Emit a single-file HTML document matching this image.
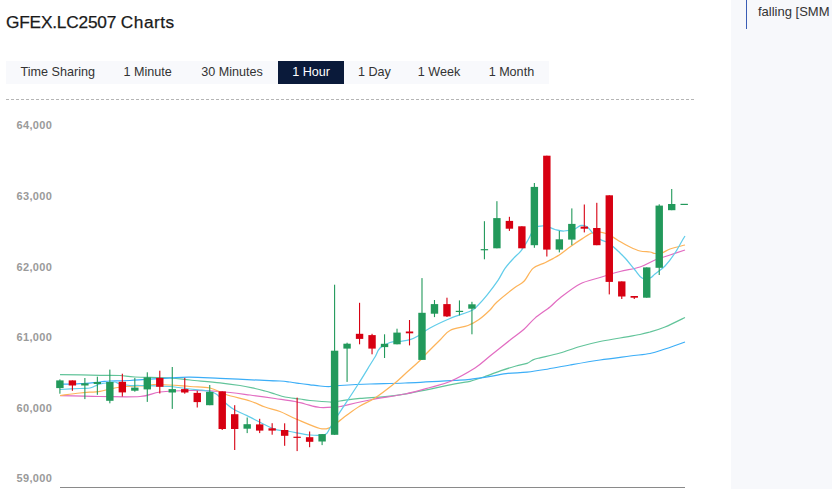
<!DOCTYPE html>
<html><head><meta charset="utf-8"><style>
html,body{margin:0;padding:0;width:832px;height:489px;overflow:hidden;background:#fff;font-family:"Liberation Sans",sans-serif;}
.title{position:absolute;left:6px;top:11px;font-size:17.3px;line-height:22px;-webkit-text-stroke:0.25px #1a1a1a;color:#1a1a1a;white-space:nowrap;letter-spacing:0px;}
.tabbar{position:absolute;left:6px;top:61px;width:543px;height:23px;background:#f8f9fc;}
.act-bg{position:absolute;left:278px;top:61px;width:66px;height:23px;background:#0a1a3a;}
.tl{position:absolute;top:64px;width:100px;text-align:center;font-size:12.6px;color:#333;white-space:nowrap;line-height:16px;}
.tl.act{color:#fff;}
.dash{position:absolute;left:6px;top:99px;width:689px;height:1px;background-image:linear-gradient(to right,#b5b5b5 0,#b5b5b5 3px,transparent 3px,transparent 5px);background-size:5px 1px;}
.yl{position:absolute;left:16.5px;font-size:11px;letter-spacing:0.35px;font-weight:bold;color:#9a9a9a;line-height:14px;white-space:nowrap;}
.axis{position:absolute;left:59.5px;top:487px;width:625px;height:1px;background:#8a8a8a;}
.panel{position:absolute;left:731px;top:0;width:101px;height:489px;background:#f7f8fb;}
.bar{position:absolute;left:746px;top:0;width:1px;height:29px;background:#3a5db5;}
.ptext{position:absolute;left:758px;top:4px;font-size:13px;color:#333;white-space:nowrap;line-height:16px;}
svg{position:absolute;left:0;top:0;}
</style></head><body>
<div class="title"><span style="letter-spacing:-0.2px">GFEX.LC2507</span></div><div class="title" style="left:120.8px;letter-spacing:0.5px">Charts</div>
<div class="tabbar"></div>
<div class="act-bg"></div>
<div class="tl" style="left:7.8px">Time Sharing</div><div class="tl" style="left:97.7px">1 Minute</div><div class="tl" style="left:182.1px">30 Minutes</div><div class="tl act" style="left:261.1px">1 Hour</div><div class="tl" style="left:324.4px">1 Day</div><div class="tl" style="left:389.0px">1 Week</div><div class="tl" style="left:461.4px">1 Month</div>
<div class="dash"></div>
<div class="yl" style="top:118px">64,000</div><div class="yl" style="top:189px">63,000</div><div class="yl" style="top:260px">62,000</div><div class="yl" style="top:330px">61,000</div><div class="yl" style="top:401px">60,000</div><div class="yl" style="top:471px">59,000</div>
<div class="axis"></div>
<svg width="832" height="489" viewBox="0 0 832 489">
<path d="M60.0,374.6 C66.7,374.7 90.0,375.2 100.0,375.3 C110.0,375.4 114.2,375.2 120.0,375.5 C125.8,375.8 126.7,376.6 135.0,377.0 C143.3,377.4 160.8,377.5 170.0,378.0 C179.2,378.5 181.7,379.2 190.0,380.0 C198.3,380.8 211.7,381.9 220.0,382.8 C228.3,383.7 234.2,384.6 240.0,385.5 C245.8,386.4 250.8,387.6 255.0,388.5 C259.2,389.4 261.7,390.1 265.0,391.0 C268.3,391.9 271.7,393.0 275.0,394.0 C278.3,395.0 280.8,396.2 285.0,397.0 C289.2,397.8 295.8,398.4 300.0,399.0 C304.2,399.6 305.0,400.0 310.0,400.5 C315.0,401.0 325.0,401.9 330.0,402.0 C335.0,402.1 335.0,401.6 340.0,401.0 C345.0,400.4 350.0,399.4 360.0,398.4 C370.0,397.4 384.2,397.2 400.0,394.8 C415.8,392.4 443.3,386.1 455.0,383.9 C466.7,381.6 464.8,382.6 470.0,381.3 C475.2,380.0 480.8,378.0 486.0,376.2 C491.2,374.4 496.0,372.3 501.0,370.6 C506.0,368.9 511.7,367.2 516.0,366.0 C520.3,364.8 524.2,364.4 527.0,363.4 C529.8,362.4 530.8,360.7 533.0,359.8 C535.2,358.9 535.5,358.9 540.0,357.8 C544.5,356.7 553.3,354.9 560.0,353.0 C566.7,351.1 573.3,348.4 580.0,346.5 C586.7,344.6 593.3,342.9 600.0,341.5 C606.7,340.1 613.3,339.2 620.0,338.0 C626.7,336.8 635.0,335.5 640.0,334.5 C645.0,333.5 645.8,333.2 650.0,332.0 C654.2,330.8 659.2,329.4 665.0,327.0 C670.8,324.6 681.7,319.1 685.0,317.5" fill="none" stroke="#62c49a" stroke-width="1.25"/>
<path d="M60.0,384.3 C63.3,384.2 73.3,384.1 80.0,383.7 C86.7,383.3 95.0,382.4 100.0,382.0 C105.0,381.6 105.0,381.2 110.0,381.0 C115.0,380.8 120.0,381.0 130.0,380.5 C140.0,380.0 160.0,378.5 170.0,377.9 C180.0,377.3 181.7,377.0 190.0,377.1 C198.3,377.2 208.3,377.8 220.0,378.3 C231.7,378.8 250.0,379.8 260.0,380.2 C270.0,380.6 275.0,380.7 280.0,381.0 C285.0,381.3 286.7,381.6 290.0,382.0 C293.3,382.4 296.7,383.0 300.0,383.5 C303.3,384.0 306.7,384.4 310.0,384.8 C313.3,385.2 316.7,385.7 320.0,386.0 C323.3,386.3 326.7,386.6 330.0,386.5 C333.3,386.4 333.3,385.9 340.0,385.5 C346.7,385.1 359.2,384.4 370.0,384.0 C380.8,383.6 390.8,383.6 405.0,383.0 C419.2,382.4 444.2,380.9 455.0,380.3 C465.8,379.7 464.8,379.8 470.0,379.3 C475.2,378.8 480.0,378.1 486.0,377.2 C492.0,376.2 499.2,374.5 506.0,373.6 C512.8,372.8 520.5,372.8 527.0,372.1 C533.5,371.4 537.8,370.7 545.0,369.5 C552.2,368.3 560.8,366.6 570.0,365.0 C579.2,363.4 590.0,361.5 600.0,360.0 C610.0,358.5 621.7,357.1 630.0,356.0 C638.3,354.9 644.2,354.7 650.0,353.5 C655.8,352.3 659.2,350.9 665.0,349.0 C670.8,347.1 681.7,343.2 685.0,342.0" fill="none" stroke="#3caef7" stroke-width="1.25"/>
<path d="M60.0,395.6 C66.7,395.8 86.7,396.4 100.0,396.5 C113.3,396.6 130.0,397.2 140.0,396.5 C150.0,395.8 151.7,393.0 160.0,392.0 C168.3,391.0 180.0,390.6 190.0,390.5 C200.0,390.4 210.0,390.8 220.0,391.5 C230.0,392.2 240.8,393.8 250.0,395.0 C259.2,396.2 267.5,397.4 275.0,398.5 C282.5,399.6 290.0,400.6 295.0,401.5 C300.0,402.4 300.8,403.0 305.0,404.0 C309.2,405.0 315.0,407.0 320.0,407.5 C325.0,408.0 331.7,407.2 335.0,407.0 C338.3,406.8 334.2,407.7 340.0,406.5 C345.8,405.3 359.2,402.1 370.0,400.0 C380.8,397.9 395.0,396.1 405.0,394.0 C415.0,391.9 422.5,389.6 430.0,387.5 C437.5,385.4 442.5,384.8 450.0,381.5 C457.5,378.2 468.3,372.2 475.0,368.0 C481.7,363.8 484.0,360.8 490.0,356.0 C496.0,351.2 505.3,343.8 511.0,339.3 C516.7,334.8 520.0,332.7 524.0,329.2 C528.0,325.7 530.7,321.8 535.0,318.1 C539.3,314.4 545.8,310.4 550.0,307.0 C554.2,303.6 555.0,301.8 560.0,298.0 C565.0,294.2 573.3,287.4 580.0,284.0 C586.7,280.6 593.3,279.6 600.0,277.5 C606.7,275.4 613.3,273.2 620.0,271.5 C626.7,269.8 634.2,268.9 640.0,267.0 C645.8,265.1 650.0,262.0 655.0,260.0 C660.0,258.0 665.0,256.7 670.0,255.0 C675.0,253.3 682.5,250.8 685.0,250.0" fill="none" stroke="#e26dc2" stroke-width="1.25"/>
<path d="M60.0,395.5 C63.3,395.1 73.3,393.7 80.0,393.0 C86.7,392.3 95.0,392.0 100.0,391.3 C105.0,390.6 105.8,389.8 110.0,389.0 C114.2,388.2 120.0,387.0 125.0,386.5 C130.0,386.0 134.2,386.3 140.0,386.0 C145.8,385.7 151.7,384.4 160.0,384.5 C168.3,384.6 181.7,385.9 190.0,386.5 C198.3,387.1 204.0,386.7 210.0,388.0 C216.0,389.3 219.3,392.3 226.0,394.5 C232.7,396.7 243.5,398.9 250.0,401.0 C256.5,403.1 260.0,405.2 265.0,407.0 C270.0,408.8 274.8,409.5 280.0,411.5 C285.2,413.5 289.3,416.2 296.0,419.0 C302.7,421.8 314.3,427.1 320.0,428.5 C325.7,429.9 327.0,428.6 330.0,427.5 C333.0,426.4 335.2,424.1 338.0,422.0 C340.8,419.9 343.3,417.7 347.0,415.0 C350.7,412.3 355.3,408.8 360.0,406.0 C364.7,403.2 369.2,401.8 375.0,398.0 C380.8,394.2 390.0,387.0 395.0,383.0 C400.0,379.0 400.8,377.8 405.0,374.0 C409.2,370.2 416.7,363.7 420.0,360.5 C423.3,357.3 421.7,358.4 425.0,355.0 C428.3,351.6 435.8,344.1 440.0,340.0 C444.2,335.9 445.3,332.9 450.0,330.5 C454.7,328.1 463.2,327.3 468.0,325.5 C472.8,323.7 475.3,322.1 479.0,319.5 C482.7,316.9 487.0,312.9 490.0,310.0 C493.0,307.1 492.9,305.7 497.0,302.0 C501.1,298.3 510.0,291.2 514.5,287.8 C519.0,284.4 520.9,284.5 524.0,281.3 C527.1,278.1 529.5,271.5 533.0,268.4 C536.5,265.3 541.7,264.3 545.0,262.7 C548.3,261.1 550.5,260.0 553.0,258.6 C555.5,257.2 557.0,256.5 560.0,254.4 C563.0,252.3 567.3,248.8 571.0,246.2 C574.7,243.6 578.5,241.1 582.0,238.9 C585.5,236.7 589.0,233.9 592.0,232.8 C595.0,231.7 597.7,232.0 600.0,232.1 C602.3,232.2 603.8,232.7 606.0,233.5 C608.2,234.3 610.7,235.8 613.0,237.1 C615.3,238.4 617.2,239.8 620.0,241.5 C622.8,243.2 626.7,245.4 630.0,247.0 C633.3,248.6 636.7,250.2 640.0,251.0 C643.3,251.8 647.5,251.6 650.0,252.0 C652.5,252.4 653.0,253.3 655.0,253.5 C657.0,253.7 659.5,253.8 662.0,253.0 C664.5,252.2 666.2,250.3 670.0,249.0 C673.8,247.7 682.5,245.7 685.0,245.0" fill="none" stroke="#fdb45a" stroke-width="1.25"/>
<path d="M60.0,389.5 C63.3,389.3 75.0,388.8 80.0,388.5 C85.0,388.2 87.5,388.4 90.0,388.0 C92.5,387.6 93.3,386.7 95.0,386.0 C96.7,385.3 97.5,384.6 100.0,384.0 C102.5,383.4 107.5,382.8 110.0,382.5 C112.5,382.2 113.3,381.8 115.0,382.0 C116.7,382.2 117.5,383.4 120.0,384.0 C122.5,384.6 126.7,385.2 130.0,385.5 C133.3,385.8 133.3,385.3 140.0,385.5 C146.7,385.7 161.7,385.9 170.0,386.5 C178.3,387.1 185.0,388.4 190.0,389.0 C195.0,389.6 196.3,389.5 200.0,390.0 C203.7,390.5 209.0,391.1 212.0,392.0 C215.0,392.9 215.7,393.5 218.0,395.4 C220.3,397.3 223.3,401.1 226.0,403.5 C228.7,405.9 230.5,407.5 234.0,409.5 C237.5,411.5 241.8,413.1 247.0,415.6 C252.2,418.2 260.0,422.4 265.0,424.8 C270.0,427.2 272.8,428.7 277.0,429.8 C281.2,430.9 284.5,430.6 290.0,431.5 C295.5,432.4 304.2,434.5 310.0,435.0 C315.8,435.5 321.7,435.7 325.0,434.5 C328.3,433.3 327.8,431.2 330.0,428.0 C332.2,424.8 333.3,422.2 338.0,415.0 C342.7,407.8 352.7,392.8 358.0,384.5 C363.3,376.2 367.2,369.6 370.0,365.0 C372.8,360.4 373.3,359.8 375.0,357.0 C376.7,354.2 377.5,350.4 380.0,348.0 C382.5,345.6 386.7,343.6 390.0,342.5 C393.3,341.4 396.7,342.0 400.0,341.5 C403.3,341.0 407.0,340.6 410.0,339.7 C413.0,338.8 414.7,337.9 418.0,336.0 C421.3,334.1 424.7,330.9 430.0,328.0 C435.3,325.1 443.2,321.4 450.0,318.5 C456.8,315.6 466.3,313.0 471.0,310.8 C475.7,308.6 475.3,307.8 478.0,305.2 C480.7,302.6 483.7,299.2 487.0,295.1 C490.3,291.0 495.0,284.8 498.0,280.4 C501.0,275.9 502.4,272.1 505.0,268.4 C507.6,264.7 510.8,261.3 513.5,258.4 C516.2,255.5 518.6,253.9 521.0,250.8 C523.4,247.7 525.7,243.8 528.0,240.0 C530.3,236.2 532.2,230.3 535.0,228.0 C537.8,225.7 541.7,225.8 545.0,226.0 C548.3,226.2 551.8,228.7 555.0,229.5 C558.2,230.3 560.7,231.1 564.0,231.0 C567.3,230.9 572.2,229.7 575.0,228.8 C577.8,227.9 579.0,225.8 581.0,225.4 C583.0,225.1 585.2,225.6 587.0,226.7 C588.8,227.8 589.8,230.0 592.0,232.1 C594.2,234.2 597.7,237.7 600.0,239.3 C602.3,240.9 603.8,240.6 606.0,241.8 C608.2,243.0 610.7,244.6 613.0,246.5 C615.3,248.4 618.0,251.1 620.0,253.0 C622.0,254.9 622.5,255.2 625.0,258.0 C627.5,260.8 632.2,266.7 635.0,270.0 C637.8,273.3 639.5,276.7 642.0,278.0 C644.5,279.3 647.8,278.7 650.0,278.0 C652.2,277.3 652.5,276.0 655.0,274.0 C657.5,272.0 661.7,269.5 665.0,266.0 C668.3,262.5 672.2,257.2 675.0,253.0 C677.8,248.8 680.3,243.8 682.0,241.0 C683.7,238.2 684.5,236.8 685.0,236.0" fill="none" stroke="#62cdea" stroke-width="1.25"/>
<rect x="59.35" y="379.40" width="1.1" height="14.30" fill="#22995b"/>
<rect x="56.20" y="380.40" width="7.40" height="7.70" fill="#22995b"/>
<rect x="71.84" y="380.40" width="1.1" height="10.40" fill="#d70012"/>
<rect x="68.69" y="380.40" width="7.40" height="5.10" fill="#d70012"/>
<rect x="84.32" y="378.00" width="1.1" height="21.10" fill="#22995b"/>
<rect x="81.17" y="383.30" width="7.40" height="2.20" fill="#22995b"/>
<rect x="96.81" y="376.70" width="1.1" height="18.10" fill="#22995b"/>
<rect x="93.66" y="382.00" width="7.40" height="2.00" fill="#22995b"/>
<rect x="109.29" y="369.60" width="1.1" height="33.70" fill="#22995b"/>
<rect x="106.14" y="382.00" width="7.40" height="18.80" fill="#22995b"/>
<rect x="121.78" y="373.70" width="1.1" height="22.80" fill="#d70012"/>
<rect x="118.63" y="381.80" width="7.40" height="10.60" fill="#d70012"/>
<rect x="134.27" y="377.90" width="1.1" height="13.80" fill="#22995b"/>
<rect x="131.12" y="387.60" width="7.40" height="3.10" fill="#22995b"/>
<rect x="146.75" y="372.30" width="1.1" height="29.60" fill="#22995b"/>
<rect x="143.60" y="377.40" width="7.40" height="12.00" fill="#22995b"/>
<rect x="159.24" y="370.70" width="1.1" height="22.80" fill="#d70012"/>
<rect x="156.09" y="377.90" width="7.40" height="8.90" fill="#d70012"/>
<rect x="171.72" y="367.00" width="1.1" height="41.90" fill="#22995b"/>
<rect x="168.57" y="389.10" width="7.40" height="3.40" fill="#22995b"/>
<rect x="184.21" y="377.90" width="1.1" height="15.80" fill="#d70012"/>
<rect x="181.06" y="389.10" width="7.40" height="3.40" fill="#d70012"/>
<rect x="196.70" y="390.70" width="1.1" height="16.80" fill="#d70012"/>
<rect x="193.55" y="392.90" width="7.40" height="9.20" fill="#d70012"/>
<rect x="209.18" y="385.00" width="1.1" height="20.20" fill="#22995b"/>
<rect x="206.03" y="391.90" width="7.40" height="13.30" fill="#22995b"/>
<rect x="221.67" y="391.40" width="1.1" height="38.60" fill="#d70012"/>
<rect x="218.52" y="391.40" width="7.40" height="37.60" fill="#d70012"/>
<rect x="234.15" y="405.20" width="1.1" height="44.80" fill="#d70012"/>
<rect x="231.00" y="414.20" width="7.40" height="14.80" fill="#d70012"/>
<rect x="246.64" y="417.50" width="1.1" height="15.60" fill="#22995b"/>
<rect x="243.49" y="424.20" width="7.40" height="4.50" fill="#22995b"/>
<rect x="259.13" y="418.80" width="1.1" height="14.30" fill="#d70012"/>
<rect x="255.98" y="424.40" width="7.40" height="6.20" fill="#d70012"/>
<rect x="271.61" y="423.20" width="1.1" height="11.50" fill="#d70012"/>
<rect x="268.46" y="428.30" width="7.40" height="2.30" fill="#d70012"/>
<rect x="284.10" y="423.30" width="1.1" height="22.50" fill="#d70012"/>
<rect x="280.95" y="430.00" width="7.40" height="5.80" fill="#d70012"/>
<rect x="296.58" y="397.60" width="1.1" height="53.50" fill="#d70012"/>
<rect x="293.43" y="436.70" width="7.40" height="1.20" fill="#d70012"/>
<rect x="309.07" y="431.50" width="1.1" height="15.70" fill="#d70012"/>
<rect x="305.92" y="437.20" width="7.40" height="4.60" fill="#d70012"/>
<rect x="321.56" y="434.00" width="1.1" height="11.10" fill="#22995b"/>
<rect x="318.41" y="434.10" width="7.40" height="7.40" fill="#22995b"/>
<rect x="334.04" y="284.70" width="1.1" height="150.10" fill="#22995b"/>
<rect x="330.89" y="350.70" width="7.40" height="84.10" fill="#22995b"/>
<rect x="346.53" y="342.70" width="1.1" height="39.20" fill="#22995b"/>
<rect x="343.38" y="343.70" width="7.40" height="4.90" fill="#22995b"/>
<rect x="359.01" y="302.80" width="1.1" height="41.50" fill="#d70012"/>
<rect x="355.86" y="333.80" width="7.40" height="5.10" fill="#d70012"/>
<rect x="371.50" y="333.80" width="1.1" height="20.50" fill="#d70012"/>
<rect x="368.35" y="335.10" width="7.40" height="13.50" fill="#d70012"/>
<rect x="383.99" y="334.30" width="1.1" height="23.70" fill="#22995b"/>
<rect x="380.84" y="343.80" width="7.40" height="3.30" fill="#22995b"/>
<rect x="396.47" y="328.70" width="1.1" height="15.60" fill="#22995b"/>
<rect x="393.32" y="332.60" width="7.40" height="11.70" fill="#22995b"/>
<rect x="408.96" y="320.00" width="1.1" height="25.40" fill="#d70012"/>
<rect x="405.81" y="331.50" width="7.40" height="1.80" fill="#d70012"/>
<rect x="421.44" y="278.10" width="1.1" height="81.80" fill="#22995b"/>
<rect x="418.29" y="312.80" width="7.40" height="47.10" fill="#22995b"/>
<rect x="433.93" y="300.00" width="1.1" height="17.10" fill="#22995b"/>
<rect x="430.78" y="304.10" width="7.40" height="9.60" fill="#22995b"/>
<rect x="446.42" y="297.70" width="1.1" height="19.30" fill="#d70012"/>
<rect x="443.27" y="304.10" width="7.40" height="12.30" fill="#d70012"/>
<rect x="458.90" y="300.40" width="1.1" height="15.00" fill="#22995b"/>
<rect x="455.75" y="310.80" width="7.40" height="1.20" fill="#22995b"/>
<rect x="471.39" y="301.80" width="1.1" height="32.50" fill="#22995b"/>
<rect x="468.24" y="304.30" width="7.40" height="4.40" fill="#22995b"/>
<rect x="483.87" y="221.20" width="1.1" height="38.10" fill="#22995b"/>
<rect x="480.72" y="249.10" width="7.40" height="1.20" fill="#22995b"/>
<rect x="496.36" y="201.20" width="1.1" height="47.10" fill="#22995b"/>
<rect x="493.21" y="218.10" width="7.40" height="30.20" fill="#22995b"/>
<rect x="508.85" y="216.80" width="1.1" height="14.10" fill="#d70012"/>
<rect x="505.70" y="220.90" width="7.40" height="7.80" fill="#d70012"/>
<rect x="521.33" y="226.30" width="1.1" height="22.00" fill="#d70012"/>
<rect x="518.18" y="226.30" width="7.40" height="22.00" fill="#d70012"/>
<rect x="533.82" y="183.00" width="1.1" height="64.80" fill="#22995b"/>
<rect x="530.67" y="186.90" width="7.40" height="58.30" fill="#22995b"/>
<rect x="546.30" y="155.70" width="1.1" height="100.80" fill="#d70012"/>
<rect x="543.15" y="155.70" width="7.40" height="93.90" fill="#d70012"/>
<rect x="558.79" y="230.90" width="1.1" height="21.50" fill="#22995b"/>
<rect x="555.64" y="239.30" width="7.40" height="10.30" fill="#22995b"/>
<rect x="571.28" y="208.40" width="1.1" height="36.80" fill="#22995b"/>
<rect x="568.13" y="223.90" width="7.40" height="15.70" fill="#22995b"/>
<rect x="583.76" y="204.50" width="1.1" height="27.90" fill="#d70012"/>
<rect x="580.61" y="226.60" width="7.40" height="2.10" fill="#d70012"/>
<rect x="596.25" y="202.80" width="1.1" height="42.40" fill="#d70012"/>
<rect x="593.10" y="228.00" width="7.40" height="17.20" fill="#d70012"/>
<rect x="608.73" y="195.30" width="1.1" height="99.10" fill="#d70012"/>
<rect x="605.58" y="195.30" width="7.40" height="86.60" fill="#d70012"/>
<rect x="621.22" y="281.40" width="1.1" height="17.60" fill="#d70012"/>
<rect x="618.07" y="281.40" width="7.40" height="15.10" fill="#d70012"/>
<rect x="633.71" y="296.00" width="1.1" height="3.00" fill="#d70012"/>
<rect x="630.56" y="296.00" width="7.40" height="1.70" fill="#d70012"/>
<rect x="646.19" y="267.40" width="1.1" height="30.30" fill="#22995b"/>
<rect x="643.04" y="267.40" width="7.40" height="30.30" fill="#22995b"/>
<rect x="658.68" y="204.30" width="1.1" height="70.70" fill="#22995b"/>
<rect x="655.53" y="205.60" width="7.40" height="62.20" fill="#22995b"/>
<rect x="671.16" y="189.00" width="1.1" height="21.20" fill="#22995b"/>
<rect x="668.01" y="204.00" width="7.40" height="6.20" fill="#22995b"/>
<rect x="683.65" y="204.30" width="1.1" height="0.50" fill="#22995b"/>
<rect x="680.50" y="203.80" width="7.40" height="1.20" fill="#22995b"/>
</svg>
<div class="panel"></div>
<div class="bar"></div>
<div class="ptext">falling [SMM Analysis]</div>
</body></html>
